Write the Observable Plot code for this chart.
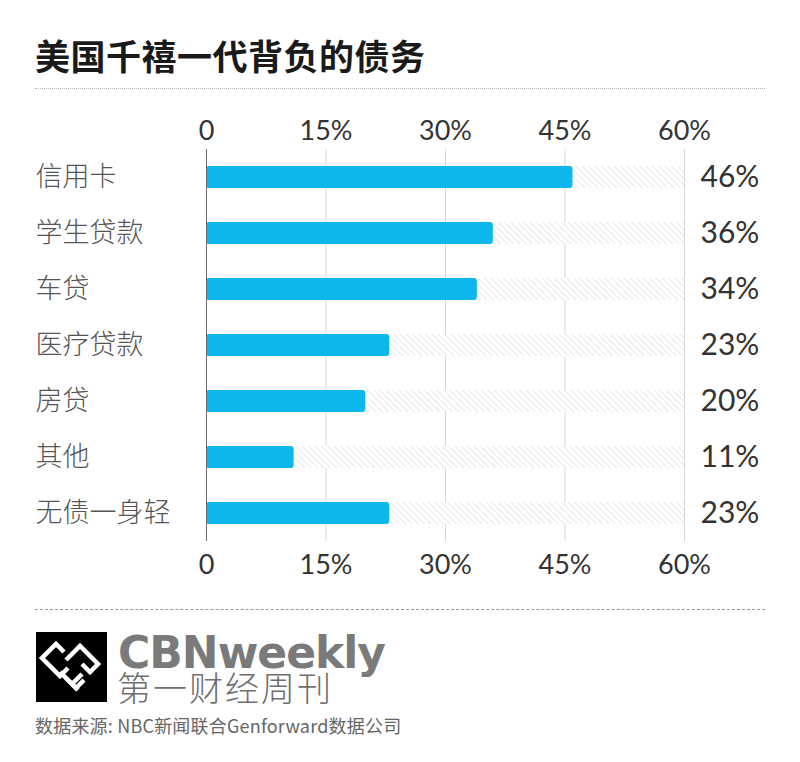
<!DOCTYPE html>
<html>
<head>
<meta charset="utf-8">
<script src="https://cdn.jsdelivr.net/npm/d3@7"></script>
<script src="https://cdn.jsdelivr.net/npm/@observablehq/plot@0.6"></script>
<style>
  html, body { margin: 0; padding: 0; background: #fff; }
  body { width: 800px; height: 762px; position: relative; overflow: hidden;
         font-family: "Noto Sans CJK SC", "Noto Sans", sans-serif; }
  div { line-height: 1; white-space: nowrap; }
  #title { position: absolute; left: 35px; top: 37px; font-size: 35px; font-weight: 700; color: #1a1a1a; letter-spacing: 0.5px; }
  #rule1 { position: absolute; left: 35px; top: 88px; width: 730px; border-top: 1.5px dotted #b5b5b5; }
  #chart { position: absolute; left: 0; top: 100px; }
  #rule2 { position: absolute; left: 35px; top: 609px; width: 730px; border-top: 1.5px dashed #9a9a9a; }
  #logo { position: absolute; left: 36px; top: 632px; }
  #brand { position: absolute; left: 118px; top: 635px; line-height: 0.8; font-family: "DejaVu Sans", sans-serif; font-weight: 700; font-size: 44px; color: #7a7a7a; letter-spacing: -1px; }
  #brandcn { position: absolute; left: 117px; top: 672px; line-height: 0.9; font-size: 34px; font-weight: 300; color: #6f6f6f; letter-spacing: 2px; }
  #source { position: absolute; left: 35px; top: 716px; font-size: 18px; color: #666; letter-spacing: 0.2px; }
</style>
</head>
<body>
<div id="title">美国千禧一代背负的债务</div>
<div id="rule1"></div>
<div id="chart"></div>
<div id="rule2"></div>
<svg id="logo" width="71" height="70" viewBox="0 0 71 70">
  <rect width="71" height="70" fill="#000"/>
  <g fill="none" stroke="#fff" stroke-width="4.5" stroke-linejoin="miter">
    <polyline points="28,20 20,12 6,26 24,44 32,36"/>
    <polyline points="30,28 44,14 62,32 54,40 46,32"/>
    <polyline points="24,40 36,52 46,42"/>
    <polyline points="30,46 40,56 48,48"/>
    <polyline points="36,52 42,58"/>
  </g>
</svg>
<div id="brand">CBNweekly</div>
<div id="brandcn">第一财经周刊</div>
<div id="source">数据来源: NBC新闻联合Genforward数据公司</div>
<script>
const categories = ["信用卡", "学生贷款", "车贷", "医疗贷款", "房贷", "其他", "无债一身轻"];
const values = [46, 36, 34, 23, 20, 11, 23];
const ticks = [0, 15, 30, 45, 60];
const axisMax = 60;

const data = categories.map((c, i) => ({category: c, value: values[i], max: axisMax}));
const fmt = d => d === 0 ? "0" : d + "%";

const plot = Plot.plot({
  width: 800,
  height: 500,
  marginLeft: 206,
  marginRight: 116,
  marginTop: 49,
  marginBottom: 59,
  style: {fontFamily: "Lato, 'Noto Sans', sans-serif", color: "#333", background: "transparent"},
  x: {domain: [0, axisMax], axis: null, label: null},
  y: {domain: categories, paddingInner: 0.6, paddingOuter: 0.3, axis: null, label: null},
  marks: [
    Plot.gridX(ticks.filter(t => t > 0), {stroke: "#d6d6d6", strokeOpacity: 1, strokeWidth: 1}),
    Plot.barX(data, {y: "category", x1: "value", x2: "max", fill: "url(#hatch)"}),
    Plot.barX(data, {y: "category", x1: 0, x2: "value", fill: "#0db6ec", rx: 3}),
    Plot.ruleX([0], {stroke: "#6b6b6b", strokeWidth: 1}),
    Plot.axisX(ticks, {anchor: "top", tickSize: 0, tickPadding: 10, fontSize: 27, fill: "#333",
      tickFormat: fmt, label: null}),
    Plot.axisX(ticks, {anchor: "bottom", tickSize: 0, tickPadding: 13, fontSize: 27, fill: "#333",
      tickFormat: fmt, label: null}),
    Plot.axisY({tickSize: 0, tickPadding: 171, textAnchor: "start", fontSize: 27, fill: "#555",
      fontFamily: "'Noto Sans CJK SC', sans-serif", fontWeight: 300, label: null}),
    Plot.text(data, {y: "category", x: "max", text: d => d.value + "%", dx: 16, textAnchor: "start",
      fontSize: 30, fill: "#333", fontFamily: "Lato, sans-serif", letterSpacing: "1.5px"})
  ]
});

const svg = d3.select(plot);
const defs = svg.insert("defs", ":first-child");
const pat = defs.append("pattern")
  .attr("id", "hatch").attr("patternUnits", "userSpaceOnUse")
  .attr("width", 4.5).attr("height", 4.5)
  .attr("patternTransform", "rotate(-45)");
pat.append("rect").attr("width", 4.5).attr("height", 4.5).attr("fill", "#fff");
pat.append("line").attr("x1", 0).attr("y1", 0).attr("x2", 0).attr("y2", 4.5)
  .attr("stroke", "#dcdcdc").attr("stroke-width", 1.3);

document.getElementById("chart").appendChild(plot);
</script>
</body>
</html>
